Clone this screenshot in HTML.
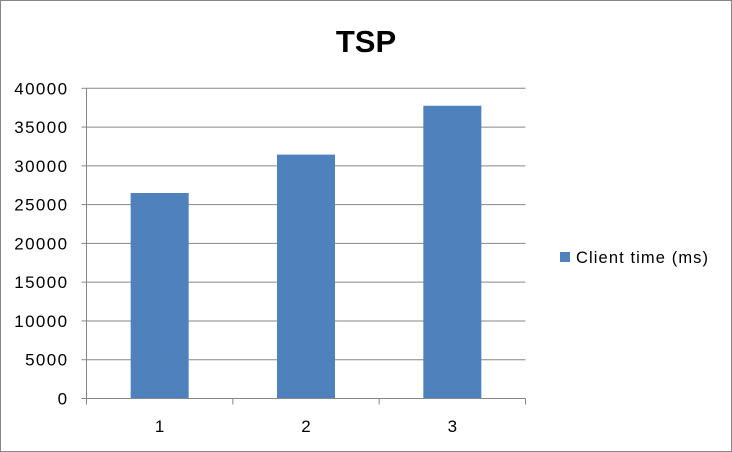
<!DOCTYPE html>
<html><head><meta charset="utf-8"><style>
body{margin:0;background:#fff}
svg{display:block;font-family:"Liberation Sans",Calibri,sans-serif}
</style></head><body>
<svg width="732" height="452">
<rect x="0.5" y="0.5" width="731" height="451" fill="#fff" stroke="#868686"/>
<text x="366" y="52" text-anchor="middle" font-size="31" font-weight="bold">TSP</text>
<g id="grid"></g><g id="bars"></g><g id="axes"></g>
<rect x="560" y="252" width="10" height="10" fill="#4F81BD"/>
<text x="576" y="263" font-size="16.5" letter-spacing="1.1">Client time (ms)</text>
</svg>
<script>
const categories=["1","2","3"];
const values=[26500,31450,37750];
const ticks=[0,5000,10000,15000,20000,25000,30000,35000,40000];
const NS="http://www.w3.org/2000/svg";
const x0=86.5,x1=525.5,y0=398.5,yTop=88.3,max=40000;
const ys=v=>y0-(v/max)*(y0-yTop);
const cw=(x1-x0)/categories.length;
function mk(t,a,p){const e=document.createElementNS(NS,t);for(const k in a)e.setAttribute(k,a[k]);p.appendChild(e);return e;}
const g=document.getElementById('grid'),b=document.getElementById('bars'),ax=document.getElementById('axes');
ticks.forEach(t=>{
 const y=ys(t);
 if(t>0){const l=mk('line',{x1:x0,x2:x1,y1:y,y2:y,stroke:'#868686','stroke-width':1},g);
 
 }
 mk('line',{x1:x0-5,x2:x0,y1:y,y2:y,stroke:'#868686'},ax);
 const tx=mk('text',{x:x0-18,y:y+6,'text-anchor':'end','font-size':17,'letter-spacing':1.4},ax);
 tx.textContent=t;
 
 
});
categories.forEach((c,i)=>{
 const cx=x0+cw*(i+0.5),w=58;
 const r=mk('rect',{x:cx-w/2,y:ys(values[i]),width:w,height:y0-ys(values[i]),fill:'#4F81BD'},b);
 
 
 const tx=mk('text',{x:cx,y:432,'text-anchor':'middle','font-size':17},ax);
 tx.textContent=c;
 
 
});
for(let i=0;i<=categories.length;i++){const x=x0+cw*i;mk('line',{x1:x,x2:x,y1:y0,y2:y0+6,stroke:'#868686'},ax);}
const ya=mk('line',{x1:x0,x2:x0,y1:yTop,y2:y0,stroke:'#868686'},ax);


const xa=mk('line',{x1:x0,x2:x1,y1:y0,y2:y0,stroke:'#868686'},ax);


</script>
</body></html>
